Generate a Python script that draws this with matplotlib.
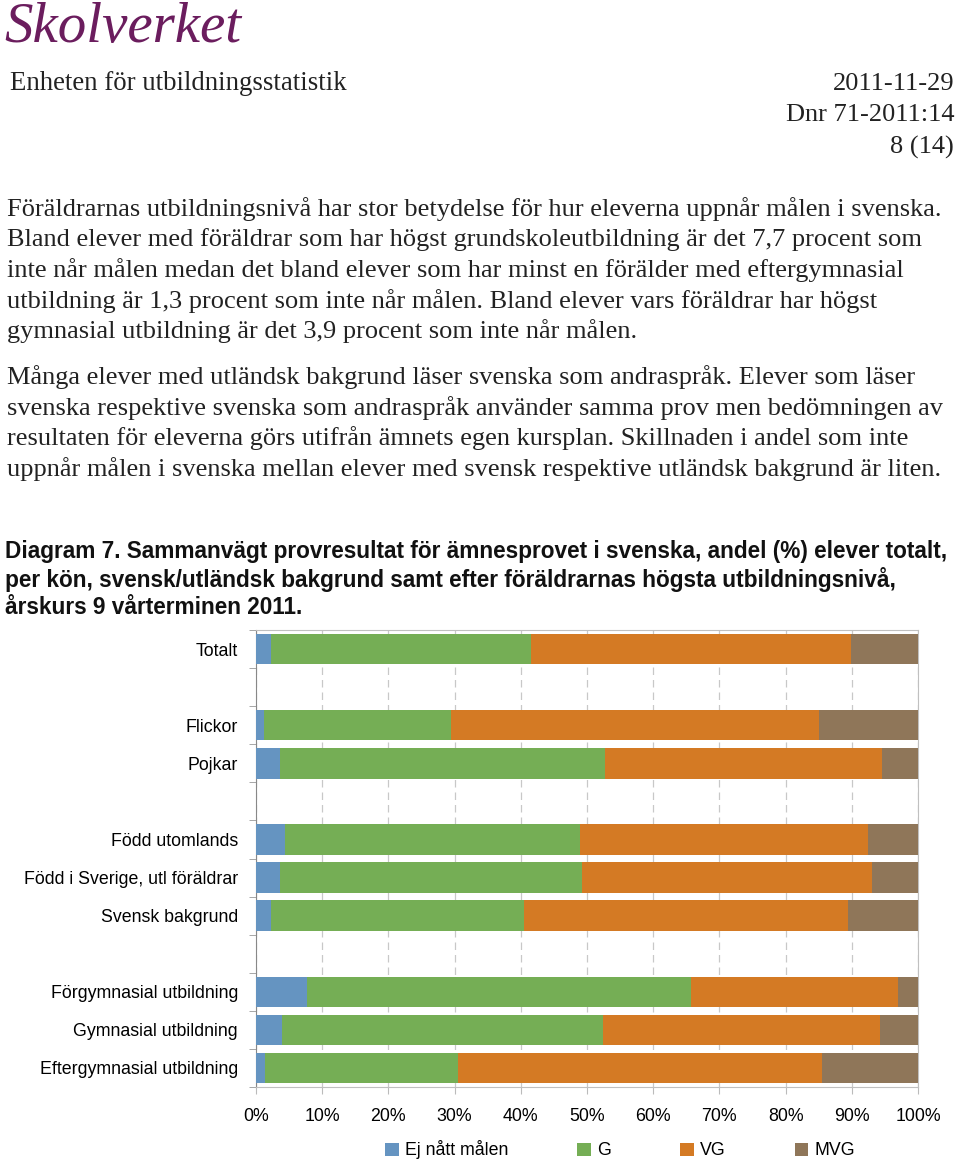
import numpy as np
import matplotlib
matplotlib.use("Agg")
import matplotlib.pyplot as plt
from matplotlib.patches import Patch

W, H = 960, 1163

# chart data (percent of pupils), top row first; "" = spacer row
categories = ["Totalt", "", "Flickor", "Pojkar", "",
              "Född utomlands", "Född i Sverige, utl föräldrar", "Svensk bakgrund", "",
              "Förgymnasial utbildning", "Gymnasial utbildning", "Eftergymnasial utbildning"]
ej_natt = [2.3, 0, 1.2, 3.6, 0, 4.4, 3.6, 2.3, 0, 7.7, 3.9, 1.3]
g_betyg = [39.2, 0, 28.3, 49.1, 0, 44.5, 45.6, 38.2, 0, 58.0, 48.5, 29.2]
vg_betyg = [48.4, 0, 55.5, 41.9, 0, 43.5, 43.9, 48.9, 0, 31.3, 41.9, 55.0]
mvg_betyg = [10.1, 0, 15.0, 5.4, 0, 7.6, 6.9, 10.6, 0, 3.0, 5.7, 14.5]
series_names = ["Ej nått målen", "G", "VG", "MVG"]
colors = ["#6594c1", "#75ae55", "#d47a24", "#8f7659"]
xticks = np.arange(0, 101, 10)

body_lines = [
    "Föräldrarnas utbildningsnivå har stor betydelse för hur eleverna uppnår målen i svenska.",
    "Bland elever med föräldrar som har högst grundskoleutbildning är det 7,7 procent som",
    "inte når målen medan det bland elever som har minst en förälder med eftergymnasial",
    "utbildning är 1,3 procent som inte når målen. Bland elever vars föräldrar har högst",
    "gymnasial utbildning är det 3,9 procent som inte når målen.",
]
body_lines2 = [
    "Många elever med utländsk bakgrund läser svenska som andraspråk. Elever som läser",
    "svenska respektive svenska som andraspråk använder samma prov men bedömningen av",
    "resultaten för eleverna görs utifrån ämnets egen kursplan. Skillnaden i andel som inte",
    "uppnår målen i svenska mellan elever med svensk respektive utländsk bakgrund är liten.",
]
caption = [
    "Diagram 7. Sammanvägt provresultat för ämnesprovet i svenska, andel (%) elever totalt,",
    "per kön, svensk/utländsk bakgrund samt efter föräldrarnas högsta utbildningsnivå,",
    "årskurs 9 vårterminen 2011.",
]

fig = plt.figure(figsize=(W / 100, H / 100), dpi=100)
fig.patch.set_facecolor("white")

def px(x, y):
    return x / W, 1 - y / H

serif = "Liberation Serif"
sans = "Liberation Sans"

# page header
fig.text(*px(4, 28), "Skolverket", fontsize=41, style="italic", family=serif,
         color="#6b1d5e", va="center", ha="left")
fig.text(*px(10, 84), "Enheten för utbildningsstatistik", fontsize=19.3, family=serif,
         color="#222222", va="center")
for y, s in [(84, "2011-11-29"), (115, "Dnr 71-2011:14"), (147, "8 (14)")]:
    fig.text(*px(954, y), s, fontsize=19, family=serif, color="#222222",
             va="center", ha="right")

for i, s in enumerate(body_lines):
    fig.text(*px(7, 209 + i * 30.6), s, fontsize=19, family=serif,
             color="#222222", va="center")
for i, s in enumerate(body_lines2):
    fig.text(*px(7, 377 + i * 30.6), s, fontsize=19, family=serif,
             color="#222222", va="center")
for i, s in enumerate(caption):
    fig.text(*px(5, 552 + i * 28), s, fontsize=16.3, family=sans, weight="bold",
             color="#111111", va="center")

# chart
ax = fig.add_axes([256 / W, 1 - 1087 / H, 662 / W, 457 / H])
y = np.arange(len(categories))
left = np.zeros(len(categories))
for vals, name, c in zip([ej_natt, g_betyg, vg_betyg, mvg_betyg], series_names, colors):
    ax.barh(y, vals, left=left, height=0.8, color=c, label=name, zorder=3)
    left += np.array(vals)

ax.set_ylim(len(categories) - 0.5, -0.5)
ax.set_xlim(0, 100)
ax.set_yticks(y)
ax.set_yticklabels(categories, family=sans, fontsize=12.8)
ax.set_yticks(np.arange(-0.5, len(categories), 1), minor=True)
ax.tick_params(axis="y", which="major", length=0, pad=13)
ax.tick_params(axis="y", which="minor", length=5, color="#999999", direction="out")
ax.set_xticks(xticks)
ax.set_xticklabels([f"{v}%" for v in xticks], family=sans, fontsize=12.8)
ax.tick_params(axis="x", length=5, color="#bbbbbb", pad=10)
ax.xaxis.grid(True, linestyle=(0, (6, 4)), color="#c8c8c8", linewidth=0.9, zorder=0)
for sp in ax.spines.values():
    sp.set_color("#c0c0c0")
ax.spines["left"].set_color("#888888")

handles = [Patch(facecolor=c, edgecolor="none") for c in colors]
ax.legend(handles, series_names, loc="upper center", bbox_to_anchor=(0.55, -0.082),
          ncol=4, frameon=False, prop={"family": sans, "size": 12.8},
          handlelength=0.75, handleheight=0.75, handletextpad=0.35, columnspacing=3.9)

fig.savefig("out.png", dpi=100, facecolor="white")
